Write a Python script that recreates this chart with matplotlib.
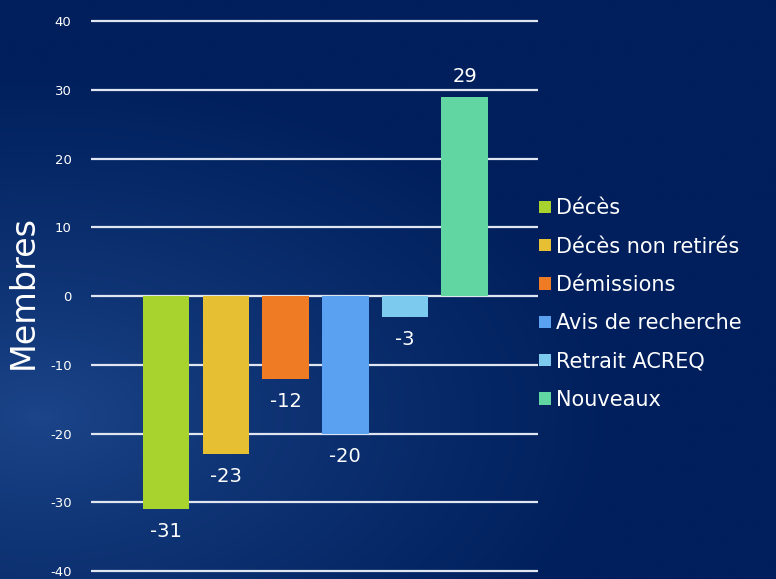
import numpy as np
import matplotlib.pyplot as plt

plt.rcParams["axes.unicode_minus"] = False

categories = ["Décès", "Décès non retirés", "Démissions",
              "Avis de recherche", "Retrait ACREQ", "Nouveaux"]
values = [-31, -23, -12, -20, -3, 29]
colors = ["#a8d22e", "#e6bf32", "#ef7b25", "#5ba1f2", "#7ccbef", "#62d6a2"]
yticks = [-40, -30, -20, -10, 0, 10, 20, 30, 40]

fig = plt.figure(figsize=(7.76, 5.79), dpi=100)

# fond dégradé (plus clair en bas à gauche)
bg = fig.add_axes([0, 0, 1, 1], zorder=-10)
yy, xx = np.mgrid[0:1:300j, 0:1:400j]
d = np.sqrt(((xx - 0.05) / 0.75) ** 2 + ((yy - 0.72) / 0.6) ** 2)
d = np.clip(d, 0, 1) ** 0.8
c_in = np.array([0x1c, 0x46, 0x8a]) / 255
c_out = np.array([0x00, 0x1f, 0x5c]) / 255
img = c_in[None, None, :] * (1 - d[..., None]) + c_out[None, None, :] * d[..., None]
bg.imshow(img, aspect="auto", extent=[0, 1, 0, 1], origin="upper")
bg.axis("off")

ax = fig.add_axes([0.1173, 0.0138, 0.576, 0.9499])
ax.patch.set_alpha(0)

x = np.arange(len(values))
bars = ax.bar(x, values, width=0.78, color=colors, zorder=3)

for xi, v in zip(x, values):
    if v < 0:
        ax.text(xi, v - 1.9, str(v), ha="center", va="top", color="white", fontsize=14)
    else:
        ax.text(xi, v + 1.5, str(v), ha="center", va="bottom", color="white", fontsize=14)

ax.set_ylim(-40, 40)
ax.set_xlim(-1.26, 6.23)
ax.set_yticks(yticks)
ax.set_xticks([])
ax.hlines(yticks, -1.26, 6.23, color="#dfe6f2", linewidth=1.6, zorder=1, clip_on=False)
for s in ax.spines.values():
    s.set_visible(False)
ax.tick_params(axis="y", length=0, pad=14, labelcolor="white", labelsize=9.5)
ax.set_ylabel("Membres", color="white", fontsize=24)
ax.yaxis.set_label_coords(-0.114, 0.507)

ax.legend(handles=list(bars), labels=categories, loc="upper left",
          bbox_to_anchor=(0.684, 0.672), bbox_transform=fig.transFigure,
          frameon=False, labelcolor="white", fontsize=15,
          handlelength=0.55, handleheight=0.55, handletextpad=0.25,
          labelspacing=0.88, borderaxespad=0)

fig.savefig("out.png", dpi=100)
